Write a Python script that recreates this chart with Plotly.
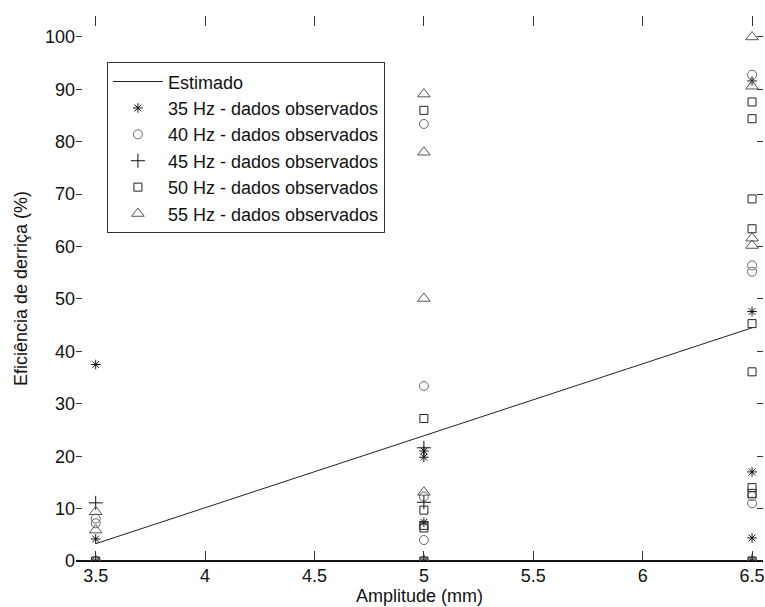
import plotly.graph_objects as go

# Fitted model: efficiency vs. vibration amplitude
amplitude_fit = [3.5, 5.0, 6.5]
eficiencia_estimada = [3.3, 23.9, 44.5]

# Observed harvesting efficiency (%) per frequency
amp_35 = [3.5, 3.5, 3.5, 5.0, 5.0, 5.0, 5.0, 6.5, 6.5, 6.5, 6.5, 6.5]
ef_35 = [37.5, 4.2, 0.0, 21.0, 19.8, 7.4, 0.0, 91.6, 47.6, 17.0, 4.4, 0.0]

amp_40 = [3.5, 3.5, 3.5, 5.0, 5.0, 5.0, 5.0, 5.0, 6.5, 6.5, 6.5, 6.5, 6.5, 6.5]
ef_40 = [8.1, 7.2, 0.0, 83.4, 33.4, 12.3, 4.0, 0.0, 92.8, 56.4, 55.2, 12.4, 11.0, 0.0]

amp_45 = [3.5, 3.5, 5.0, 5.0, 5.0, 6.5]
ef_45 = [11.1, 0.0, 21.6, 11.2, 0.0, 0.0]

amp_50 = [3.5, 5.0, 5.0, 5.0, 5.0, 5.0, 5.0, 6.5, 6.5, 6.5, 6.5, 6.5, 6.5, 6.5, 6.5, 6.5]
ef_50 = [0.0, 86.0, 27.2, 9.7, 6.8, 6.3, 0.0, 87.6, 84.4, 69.1, 63.4, 45.3, 36.1, 14.0, 12.9, 0.0]

amp_55 = [3.5, 3.5, 3.5, 5.0, 5.0, 5.0, 5.0, 5.0, 6.5, 6.5, 6.5, 6.5, 6.5]
ef_55 = [9.4, 5.9, 0.0, 89.1, 78.0, 50.1, 13.1, 0.0, 100.0, 90.6, 61.6, 60.2, 0.0]

x_ticks = [3.5, 4.0, 4.5, 5.0, 5.5, 6.0, 6.5]
x_tick_text = ["3.5", "4", "4.5", "5", "5.5", "6", "6.5"]
y_ticks = [0, 10, 20, 30, 40, 50, 60, 70, 80, 90, 100]

FONT = "Liberation Sans, Arial, sans-serif"

fig = go.Figure()

fig.add_trace(go.Scatter(
    x=amplitude_fit, y=eficiencia_estimada, mode="lines",
    name="Estimado", line=dict(color="#222222", width=1),
))

series = [
    ("35 Hz - dados observados", amp_35, ef_35, "asterisk-open", "#111111", 8),
    ("40 Hz - dados observados", amp_40, ef_40, "circle-open", "#666666", 9),
    ("45 Hz - dados observados", amp_45, ef_45, "cross-thin-open", "#111111", 10),
    ("50 Hz - dados observados", amp_50, ef_50, "square-open", "#222222", 8),
    ("55 Hz - dados observados", amp_55, ef_55, "triangle-up-open", "#555555", 11),
]
for name, xs, ys, sym, col, size in series:
    fig.add_trace(go.Scatter(
        x=xs, y=ys, mode="markers", name=name,
        marker=dict(symbol=sym, size=size, color=col,
                    line=dict(color=col, width=1)),
    ))

fig.update_layout(
    width=765, height=607,
    margin=dict(l=76, r=0, t=16, b=46),
    paper_bgcolor="white", plot_bgcolor="white",
    font=dict(family=FONT, size=18, color="#111111"),
    showlegend=True,
    legend=dict(
        x=0.045, y=0.915, xanchor="left", yanchor="top",
        bgcolor="white", bordercolor="#333333", borderwidth=1,
        font=dict(family=FONT, size=18, color="#111111"),
        itemwidth=50, tracegroupgap=0,
    ),
    xaxis=dict(
        range=[3.41, 6.55], tickmode="array", tickvals=x_ticks, ticktext=x_tick_text,
        ticks="inside", ticklen=10, tickcolor="#333333", mirror="ticks",
        showline=False, showgrid=False, zeroline=False,
        ticklabelstandoff=2, ticklabeloverflow="allow",
        title=dict(text="Amplitude (mm)", standoff=2, font=dict(size=18)),
    ),
    yaxis=dict(
        range=[0, 104], tickmode="array", tickvals=y_ticks,
        ticks="inside", ticklen=6, tickcolor="#333333", mirror="ticks",
        showline=False, showgrid=False,
        zeroline=True, zerolinecolor="#111111", zerolinewidth=2,
        title=dict(text="Eficiência de derriça (%)", standoff=12, font=dict(size=18)),
    ),
)

fig.write_html("out.html")
